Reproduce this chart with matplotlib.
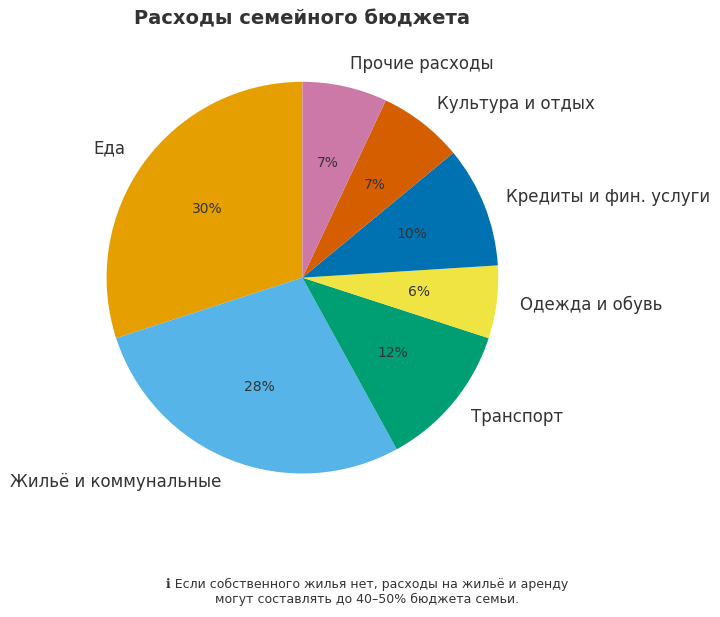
import matplotlib
matplotlib.use("Agg")
import matplotlib.pyplot as plt

categories = ["Еда", "Жильё и коммунальные", "Транспорт", "Одежда и обувь",
              "Кредиты и фин. услуги", "Культура и отдых", "Прочие расходы"]
values = [30, 28, 12, 6, 10, 7, 7]
colors = ["#E69F00", "#56B4E9", "#009E73", "#F0E442", "#0072B2", "#D55E00", "#CC79A7"]

plt.rcParams['font.family'] = ['DejaVu Sans']
fig = plt.figure(figsize=(7.2, 6.17), dpi=100)
ax = fig.add_axes([0.08, 0.153, 0.68, 0.794])
wedges, texts, autotexts = ax.pie(values, labels=categories, colors=colors, startangle=90,
                                  autopct='%1.0f%%', pctdistance=0.6, labeldistance=1.12,
                                  textprops={'color': '#333333'})
for t in texts:
    t.set_fontsize(12)
for t in autotexts:
    t.set_fontsize(10)
ax.set_xlim(-1.25, 1.25)
ax.set_ylim(-1.25, 1.25)
ax.set_aspect('equal')
fig.text(0.42, 0.97, "Расходы семейного бюджета", ha='center', va='center',
         fontsize=14, fontweight='bold', color='#333333')
fig.text(0.51, 0.04, "ℹ Если собственного жилья нет, расходы на жильё и аренду\nмогут составлять до 40–50% бюджета семьи.",
         ha='center', va='center', fontsize=9, color='#333333')
fig.savefig("out.png", dpi=100)
